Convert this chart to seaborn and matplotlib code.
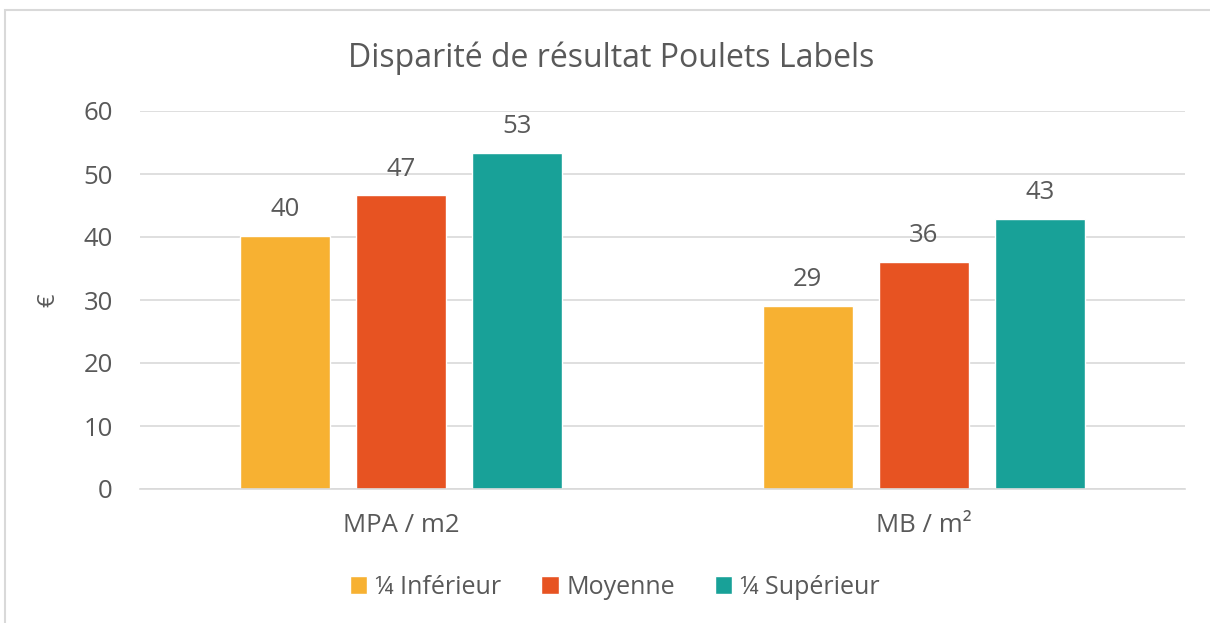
import seaborn as sns
import matplotlib.pyplot as plt
import pandas as pd
from matplotlib.patches import Rectangle

categories = ["MPA / m2", "MB / m²"]
series = ["¼ Inférieur", "Moyenne", "¼ Supérieur"]
inferieur = [40.1, 29.0]
moyenne = [46.6, 36.0]
superieur = [53.3, 42.8]
labels = [["40", "29"], ["47", "36"], ["53", "43"]]
colors = ["#F7B132", "#E75322", "#18A198"]
text_color = "#595959"

rows = []
for name, vals in zip(series, [inferieur, moyenne, superieur]):
    for cat, v in zip(categories, vals):
        rows.append({"Catégorie": cat, "Série": name, "Valeur": v})
df = pd.DataFrame(rows)

sns.set_theme(style="white")
plt.rcParams["font.family"] = ["Open Sans", "DejaVu Sans"]

fig = plt.figure(figsize=(12.1, 6.23), dpi=100)
ax = fig.add_axes([140 / 1210, 1 - 489 / 623, 1045 / 1210, 378 / 623])

sns.barplot(data=df, x="Catégorie", y="Valeur", hue="Série", order=categories,
            hue_order=series, palette=colors, width=0.666, gap=0.22,
            saturation=1, ax=ax, legend=True)

for cont, labs in zip(ax.containers, labels):
    ax.bar_label(cont, labels=labs, padding=10, fontsize=18.5, color=text_color)

ax.set_ylim(0, 60)
ax.set_xlim(-0.5, 1.5)
ax.set_yticks(range(0, 61, 10))
ax.yaxis.grid(True, color="#D9D9D9", linewidth=1.2)
ax.set_axisbelow(True)
for s in ["top", "right", "left"]:
    ax.spines[s].set_visible(False)
ax.spines["bottom"].set_color("#D9D9D9")
ax.spines["bottom"].set_linewidth(1.2)
ax.tick_params(axis="both", length=0, labelsize=18.5, labelcolor=text_color)
ax.tick_params(axis="y", pad=19.5)
ax.tick_params(axis="x", pad=17)
ax.set_xlabel("")
ax.set_ylabel("€", fontsize=17, color=text_color)
ax.yaxis.set_label_coords(-0.0766, 0.5)

fig.text(0.505, 1 - 67 / 623, "Disparité de résultat Poulets Labels",
         ha="center", va="baseline", fontsize=23, color=text_color)

handles, labs_ = ax.get_legend_handles_labels()
ax.get_legend().remove()
fig.legend(handles, labs_, loc="center", bbox_to_anchor=(0.508, 1 - 587 / 623),
           ncol=3, frameon=False, fontsize=18, labelcolor=text_color,
           handlelength=0.7, handleheight=0.7, handletextpad=0.3,
           columnspacing=1.6)

fig.patches.append(Rectangle((5 / 1210, -0.1), 1.2, 1 - 10 / 623 + 0.1,
                             transform=fig.transFigure, fill=False,
                             edgecolor="#D9D9D9", linewidth=1.5))

fig.savefig("out.png", dpi=100)
